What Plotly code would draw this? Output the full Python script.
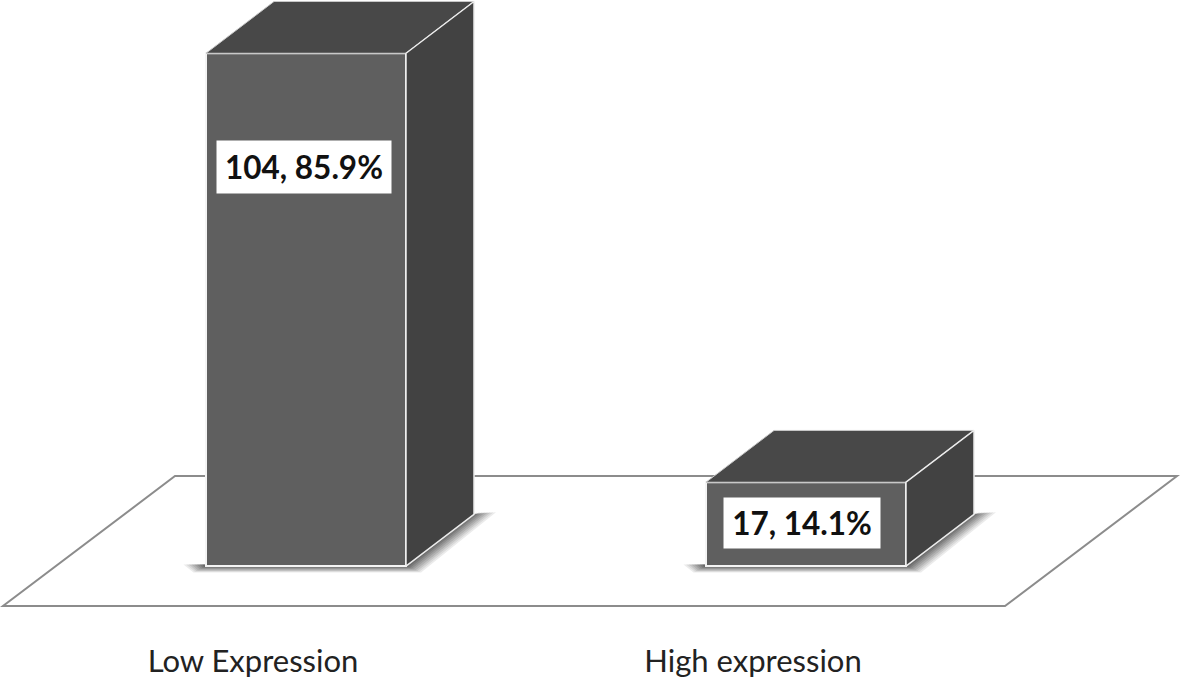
import plotly.graph_objects as go

categories = ["Low Expression", "High expression"]
counts = [104, 17]
percents = [85.9, 14.1]
positions = [0, 1]

FONT = "Lato"
BAR_W = 0.4
DX, DY = 0.136, 10.5          # depth of the extruded bars, in axis units
LABEL_OFFSET = 0.106          # category labels sit left of the bar centres
FLOOR_BACK, FLOOR_FRONT = 18.25, -8.1
FLOOR_X = [-0.262, 1.742, 1.398, -0.606]

fig = go.Figure()

# front faces
fig.add_trace(go.Bar(
    x=positions, y=counts, width=BAR_W,
    marker=dict(color="#5f5f5f", line=dict(color="#f4f4f4", width=2)),
    hoverinfo="skip", showlegend=False,
))

def path(pts):
    return "M " + " L ".join(f"{x},{y}" for x, y in pts) + " Z"

shapes = []
# floor
shapes.append(dict(type="path", xref="x", yref="y", layer="below",
    path=path([(FLOOR_X[0], FLOOR_BACK), (FLOOR_X[1], FLOOR_BACK),
               (FLOOR_X[2], FLOOR_FRONT), (FLOOR_X[3], FLOOR_FRONT)]),
    line=dict(color="#8c8c8c", width=2), fillcolor="white"))

# soft contact shadows
for x0 in positions:
    l, r = x0 - BAR_W / 2, x0 + BAR_W / 2
    for s, op in [(1.0, 0.10), (0.88, 0.10), (0.76, 0.12), (0.64, 0.14),
                  (0.52, 0.16), (0.40, 0.18), (0.28, 0.22), (0.16, 0.26)]:
        shapes.append(dict(type="path", xref="x", yref="y", layer="below",
            path=path([(l - 0.045 * s, 0.3), (r, 0.3), (r + DX, DY),
                       (r + DX + 0.044 * s, DY + 0.4),
                       (r + 0.03 * s, -1.3 * s), (l - 0.025 * s, -1.3 * s)]),
            line=dict(width=0), fillcolor=f"rgba(60,60,60,{op})"))

# top and side faces
for x0, v in zip(positions, counts):
    l, r = x0 - BAR_W / 2, x0 + BAR_W / 2
    fig.add_trace(go.Scatter(
        x=[l, l + DX, r + DX, r, l], y=[v, v + DY, v + DY, v, v],
        mode="lines", fill="toself", fillcolor="#484848",
        line=dict(color="#c8c8c8", width=1), hoverinfo="skip", showlegend=False))
    fig.add_trace(go.Scatter(
        x=[r, r + DX, r + DX, r, r], y=[0, DY, v + DY, v, 0],
        mode="lines", fill="toself", fillcolor="#424242",
        line=dict(color="#ececec", width=1.5), hoverinfo="skip", showlegend=False))

# value labels
label_y = [81.0, 8.7]
label_x = [-0.004, 0.992]
box_w = [172, 154]
box_h = [50, 48]
annotations = [
    dict(x=x, y=y, xref="x", yref="y", text=f"<b>{c}, {p}%</b>", showarrow=False,
         bgcolor="white", width=w, height=h, align="center", valign="middle",
         font=dict(family=FONT, size=31.5, color="#111111"))
    for x, y, c, p, w, h in zip(label_x, label_y, counts, percents, box_w, box_h)
]

fig.update_layout(
    width=1181, height=680, autosize=False,
    margin=dict(l=0, r=0, t=0, b=40),
    paper_bgcolor="white", plot_bgcolor="white",
    barmode="overlay", showlegend=False,
    shapes=shapes, annotations=annotations,
    xaxis=dict(range=[-0.612, 1.75], showgrid=False, zeroline=False, showline=False,
               tickmode="array", tickvals=[p - LABEL_OFFSET for p in positions],
               ticktext=categories, ticks="", tickangle=0,
               tickfont=dict(family=FONT, size=31, color="#222222")),
    yaxis=dict(range=[-15.0, 114.8], visible=False),
)

fig.write_html("out.html", config={"displayModeBar": False},
               post_script="document.body.style.margin='0';")
